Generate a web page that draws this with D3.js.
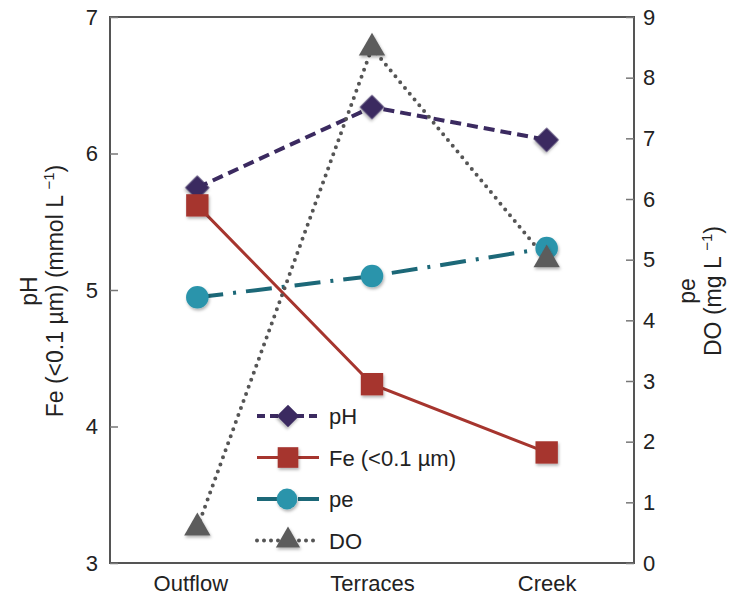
<!DOCTYPE html>
<html>
<head>
<meta charset="utf-8">
<script src="https://cdn.jsdelivr.net/npm/d3@7"></script>
<style>
  body { margin: 0; background: #fff; }
  text { font-family: "Liberation Sans", Arial, sans-serif; fill: #222; }
</style>
</head>
<body>
<div id="chart"></div>
<script>
// data
const sites = ['Outflow', 'Terraces', 'Creek'];
const pH = [5.75, 6.34, 6.10];
const fe = [5.62, 4.31, 3.81];
const pe = [4.38, 4.73, 5.19];
const dO = [0.58, 8.49, 5.0];
const leftTicks = [3, 4, 5, 6, 7];
const rightTicks = [0, 1, 2, 3, 4, 5, 6, 7, 8, 9];

const width = 730, height = 596;
const margin = { top: 17, right: 96, bottom: 33, left: 110 };
const fs = '22px';

const svg = d3.select('#chart').append('svg')
  .attr('width', width)
  .attr('height', height);

const defs = svg.append('defs');
const shadow = defs.append('filter').attr('id', 'shadow')
  .attr('x', '-50%').attr('y', '-50%').attr('width', '200%').attr('height', '200%');
shadow.append('feDropShadow')
  .attr('dx', 1).attr('dy', 2).attr('stdDeviation', 1.5)
  .attr('flood-color', '#000').attr('flood-opacity', 0.3);

let x = d3.scalePoint()
  .domain(sites)
  .range([margin.left, width - margin.right])
  .padding(0.5);

let yL = d3.scaleLinear().domain([3, 7]).range([height - margin.bottom, margin.top]);
let yR = d3.scaleLinear().domain([0, 9]).range([height - margin.bottom, margin.top]);

// frame
svg.append('rect')
  .attr('x', margin.left).attr('y', margin.top)
  .attr('width', width - margin.left - margin.right)
  .attr('height', height - margin.top - margin.bottom)
  .attr('fill', 'none').attr('stroke', '#555').attr('stroke-width', 2);

// left axis
let axL = svg.append('g')
  .attr('transform', `translate(${margin.left},0)`)
  .call(d3.axisLeft(yL).tickValues(leftTicks).tickFormat(d3.format('d'))
    .tickSizeInner(-8).tickSizeOuter(0).tickPadding(12));
axL.select('.domain').remove();
axL.selectAll('line').attr('stroke', '#777').attr('stroke-width', 1.5);
axL.selectAll('text').style('font-size', fs).attr('fill', '#222');

// right axis
let axR = svg.append('g')
  .attr('transform', `translate(${width - margin.right},0)`)
  .call(d3.axisRight(yR).tickValues(rightTicks).tickSizeInner(-8).tickSizeOuter(0).tickPadding(9));
axR.select('.domain').remove();
axR.selectAll('line').attr('stroke', '#777').attr('stroke-width', 1.5);
axR.selectAll('text').style('font-size', fs).attr('fill', '#222');

// bottom category labels
let axB = svg.append('g')
  .attr('transform', `translate(0,${height - margin.bottom})`)
  .call(d3.axisBottom(x).tickSize(0).tickPadding(12));
axB.select('.domain').remove();
axB.selectAll('text').style('font-size', fs).attr('fill', '#222')
  .attr('dx', (d, i) => i == 0 ? -7 : 0);

// axis titles
const midY = 291;
let tl = svg.append('text')
  .attr('transform', `translate(37,${midY}) rotate(-90)`)
  .attr('text-anchor', 'middle').style('font-size', '23px');
tl.append('tspan').attr('x', 0).attr('dy', 0).text('pH');
tl.append('tspan').attr('x', 0).attr('dy', 26).text('Fe (<0.1 µm) (mmol L ');
tl.append('tspan').attr('dy', -9).style('font-size', '15px').text('−1');
tl.append('tspan').attr('dy', 9).text(')');

let tr = svg.append('text')
  .attr('transform', `translate(695,${midY}) rotate(-90)`)
  .attr('text-anchor', 'middle').style('font-size', '23px');
tr.append('tspan').attr('x', 0).attr('dy', 0).text('pe');
tr.append('tspan').attr('x', 0).attr('dy', 26).text('DO (mg L ');
tr.append('tspan').attr('dy', -9).style('font-size', '15px').text('−1');
tr.append('tspan').attr('dy', 9).text(')');

// series definitions
const series = [
  { name: 'pH', vals: pH, y: yL, color: '#3b2a60', mcolor: '#3b2a60', dash: '11,6', ldash: '8,5', width: 4, sym: d3.symbolSquare, rot: 45, size: 300, cap: 'butt' },
  { name: 'Fe (<0.1 µm)', vals: fe, y: yL, color: '#a6352e', mcolor: '#a6352e', dash: null, ldash: null, width: 3, sym: d3.symbolSquare, rot: 0, size: 500, cap: 'butt' },
  { name: 'pe', vals: pe, y: yR, color: '#1c6878', mcolor: '#2b94ab', dash: '26,10,3,10', ldash: '24,7,3,7', width: 4, sym: d3.symbolCircle, rot: 0, size: 400, cap: 'butt' },
  { name: 'DO', vals: dO, y: yR, color: '#555', mcolor: '#5c5c5c', dash: '0,7.5', ldash: '0,7', width: 4, sym: d3.symbolTriangle, rot: 0, size: 300, cap: 'round' }
];

let line = (s) => d3.line()
  .x((d, i) => x(sites[i]))
  .y((d) => s.y(d));

// lines first, markers on top
series.forEach((s) => {
  svg.append('path')
    .datum(s.vals)
    .attr('d', line(s))
    .attr('fill', 'none')
    .attr('stroke', s.color)
    .attr('stroke-width', s.width)
    .attr('stroke-linecap', s.cap)
    .attr('stroke-dasharray', s.dash);
});
series.forEach((s) => {
  svg.append('g').selectAll('path')
    .data(s.vals)
    .enter()
    .append('path')
    .attr('d', d3.symbol().type(s.sym).size(s.size))
    .attr('transform', (d, i) => `translate(${x(sites[i])},${s.y(d)}) rotate(${s.rot})`)
    .attr('fill', s.mcolor)
    .attr('filter', 'url(#shadow)');
});

// legend
let legend = svg.append('g').attr('transform', 'translate(257,416)');
series.forEach((s, i) => {
  let g = legend.append('g').attr('transform', `translate(0,${i * 41.5})`);
  g.append('line')
    .attr('x1', 0).attr('x2', 62)
    .attr('stroke', s.color)
    .attr('stroke-width', s.width)
    .attr('stroke-linecap', s.cap)
    .attr('stroke-dasharray', s.ldash);
  g.append('path')
    .attr('d', d3.symbol().type(s.sym).size(s.size * 0.85))
    .attr('transform', `translate(${s.name == 'pe' ? 30 : 31},0) rotate(${s.rot})`)
    .attr('fill', s.mcolor)
    .attr('filter', 'url(#shadow)');
  g.append('text')
    .attr('x', 72).attr('y', 8)
    .style('font-size', fs)
    .text(s.name);
});
</script>
</body>
</html>
